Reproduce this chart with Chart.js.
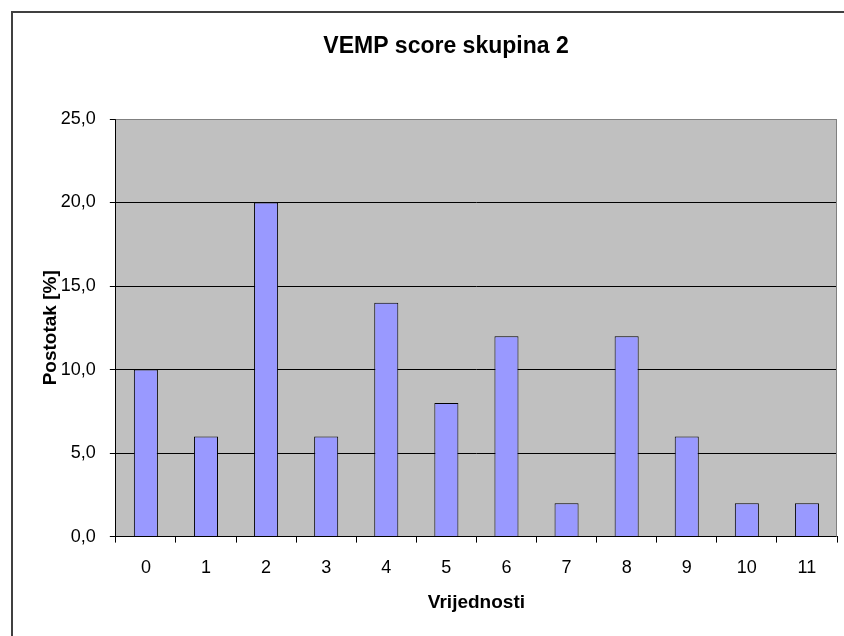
<!DOCTYPE html>
<html>
<head>
<meta charset="utf-8">
<script src="https://cdn.jsdelivr.net/npm/chart.js@4.4.1/dist/chart.umd.min.js"></script>
<style>
  html, body { margin: 0; padding: 0; background: #fff; }
  #wrap { width: 844px; height: 636px; }
</style>
</head>
<body>
<div id="wrap"><canvas id="c" width="844" height="636"></canvas></div>
<script>
const categories = ['0', '1', '2', '3', '4', '5', '6', '7', '8', '9', '10', '11'];
const percent = [10, 6, 20, 6, 14, 8, 12, 2, 12, 6, 2, 2];
const yTicks = [0, 5, 10, 15, 20, 25];

const chartTitle = 'VEMP score skupina 2';
const FONT = '"Liberation Sans", Arial, sans-serif';

Chart.defaults.color = '#000';
Chart.defaults.font.family = FONT;

// white background, outer frame, plot-area frame and the title, Excel style
const excelFrame = {
  id: 'excelFrame',
  beforeDraw(chart) {
    const ctx = chart.ctx;
    const a = chart.chartArea;
    ctx.save();
    ctx.fillStyle = '#fff';
    ctx.fillRect(0, 0, chart.width, chart.height);
    ctx.strokeStyle = '#404040';
    ctx.lineWidth = 2;
    ctx.strokeRect(12, 12, chart.width + 20, chart.height + 20);
    ctx.fillStyle = '#c0c0c0';
    ctx.fillRect(a.left, a.top, a.right - a.left, a.bottom - a.top);
    ctx.restore();
  },
  afterDraw(chart) {
    const ctx = chart.ctx;
    const a = chart.chartArea;
    ctx.save();
    ctx.strokeStyle = '#808080';
    ctx.lineWidth = 1;
    ctx.beginPath();
    ctx.moveTo(a.left, a.top + 0.5);
    ctx.lineTo(a.right - 0.5, a.top + 0.5);
    ctx.lineTo(a.right - 0.5, a.bottom);
    ctx.stroke();
    ctx.fillStyle = '#000';
    ctx.font = 'bold 23px ' + FONT;
    ctx.textAlign = 'center';
    ctx.textBaseline = 'middle';
    ctx.fillText(chartTitle, 446, 47);
    ctx.restore();
  }
};

new Chart(document.getElementById('c'), {
  type: 'bar',
  data: {
    labels: categories,
    datasets: [{
      data: percent,
      backgroundColor: '#9999ff',
      borderColor: '#000',
      borderWidth: 1,
      barPercentage: 0.4,
      categoryPercentage: 1,
    }],
  },
  options: {
    responsive: false,
    animation: false,
    layout: { padding: { left: 20, right: 7, top: 119, bottom: 18 } },
    plugins: {
      legend: { display: false },
      title: { display: false },
      tooltip: { enabled: false },
    },
    scales: {
      x: {
        grid: { drawOnChartArea: false, color: '#000', tickLength: 6 },
        border: { color: '#000' },
        ticks: { font: { size: 18 }, padding: 15 },
        title: {
          display: true,
          text: 'Vrijednosti',
          font: { size: 19, weight: 'bold' },
          padding: { top: -3, bottom: 4 },
        },
      },
      y: {
        min: 0,
        max: 25,
        afterBuildTicks: (s) => { s.ticks = yTicks.map(v => ({ value: v })); },
        grid: {
          color: (c) => (c.tick && c.tick.value === 25 ? '#808080' : '#000'),
          tickColor: '#000',
          tickLength: 6,
        },
        border: { color: '#000' },
        ticks: {
          font: { size: 18 },
          padding: 14,
          callback: (v) => Number(v).toFixed(1).replace('.', ','),
        },
        title: {
          display: true,
          text: 'Postotak [%]',
          font: { size: 19, weight: 'bold' },
          padding: { top: 19, bottom: -15 },
        },
      },
    },
  },
  plugins: [excelFrame],
});
</script>
</body>
</html>
